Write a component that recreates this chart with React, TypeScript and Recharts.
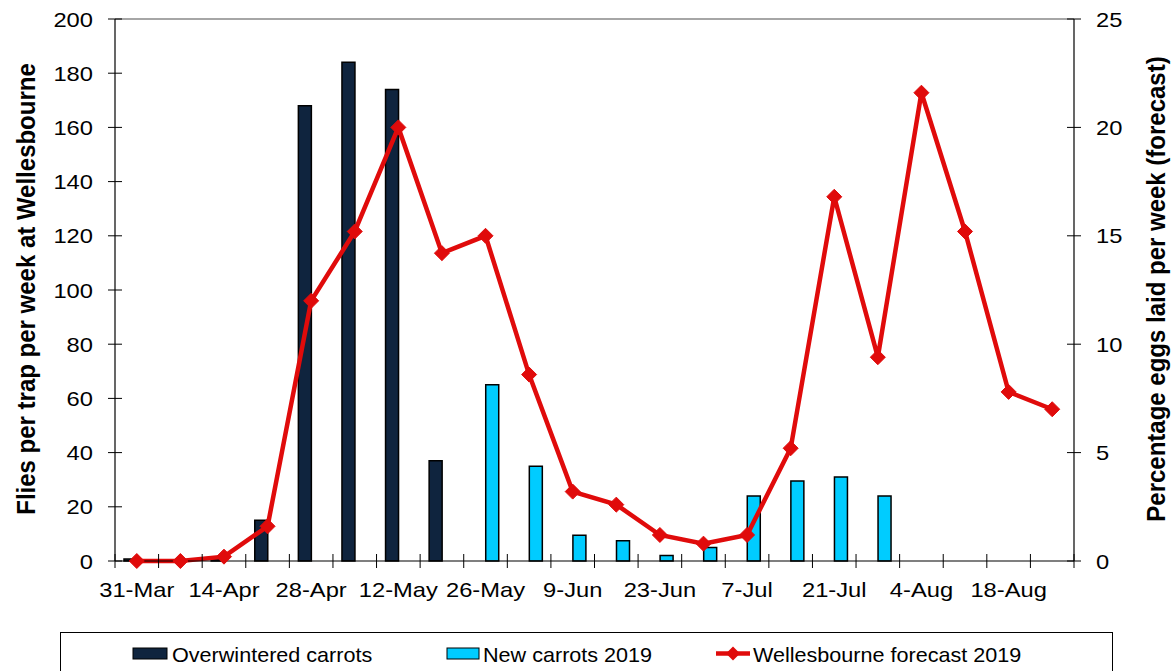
import React from 'react';
import { ComposedChart, Bar, Line, XAxis, YAxis, ReferenceLine } from 'recharts';

const categories = ['31-Mar', '7-Apr', '14-Apr', '21-Apr', '28-Apr', '5-May', '12-May', '19-May', '26-May', '2-Jun', '9-Jun', '16-Jun', '23-Jun', '30-Jun', '7-Jul', '14-Jul', '21-Jul', '28-Jul', '4-Aug', '11-Aug', '18-Aug', '25-Aug'];
const overwintered = [0.7, null, 0.7, 15, 168, 184, 174, 37, null, null, null, null, null, null, null, null, null, null, null, null, null, null];
const newCarrots = [null, null, null, null, null, null, null, null, 65, 35, 9.5, 7.5, 2, 5, 24, 29.5, 31, 24, null, null, null, null];
const forecast = [0, 0, 0.2, 1.6, 12, 15.2, 20, 14.2, 15, 8.6, 3.2, 2.6, 1.2, 0.8, 1.2, 5.2, 16.8, 9.4, 21.6, 15.2, 7.8, 7.0];
const leftTicks = [0, 20, 40, 60, 80, 100, 120, 140, 160, 180, 200];
const rightTicks = [0, 5, 10, 15, 20, 25];

const data = categories.map((c, i) => ({ date: c, ow: overwintered[i], nc: newCarrots[i], fc: forecast[i] }));

const FONT = '"Liberation Sans", Arial, Helvetica, sans-serif';
const SX = 1.13;
const NAVY = '#0F243E';
const CYAN = '#00CCFF';
const RED = '#E00B0B';

const XTick = (props: any) => {
  const { x, y, payload, index, width } = props;
  const bw = (width || 959) / categories.length;
  const showLabel = index % 2 === 0;
  return (
    <g>
      <line x1={x - bw / 2} x2={x - bw / 2} y1={y - 7} y2={y + 7} stroke="#000" strokeWidth={1} />
      {index === categories.length - 1 && (
        <line x1={x + bw / 2} x2={x + bw / 2} y1={y - 7} y2={y + 7} stroke="#000" strokeWidth={1} />
      )}
      {showLabel && (
        <text transform={`translate(${x},${y + 36}) scale(${SX},1)`} textAnchor="middle" fontFamily={FONT} fontSize={21} fill="#000">
          {payload.value}
        </text>
      )}
    </g>
  );
};

const LeftTick = (props: any) => {
  const { x, y, payload } = props;
  const ax = x + 22;
  return (
    <g>
      <line x1={ax - 7} x2={ax + 7} y1={y} y2={y} stroke="#000" strokeWidth={1} />
      <text transform={`translate(${x},${y + 7.5}) scale(${SX},1)`} textAnchor="end" fontFamily={FONT} fontSize={21} fill="#000">
        {payload.value}
      </text>
    </g>
  );
};

const RightTick = (props: any) => {
  const { x, y, payload } = props;
  const ax = x - 22;
  return (
    <g>
      <line x1={ax - 7} x2={ax + 7} y1={y} y2={y} stroke="#000" strokeWidth={1} />
      <text transform={`translate(${x},${y + 7.5}) scale(${SX},1)`} textAnchor="start" fontFamily={FONT} fontSize={21} fill="#000">
        {payload.value}
      </text>
    </g>
  );
};

const Diamond = (props: any) => {
  const { cx, cy, index } = props;
  if (cx == null || cy == null) return <g key={`d${index}`} />;
  const r = 7.5;
  return (
    <polygon key={`d${index}`} points={`${cx},${cy - r} ${cx + r},${cy} ${cx},${cy + r} ${cx - r},${cy}`} fill={RED} stroke={RED} strokeWidth={1} />
  );
};

export default function App() {
  return (
    <div style={{ position: 'absolute', left: 0, top: 0, width: 1174, height: 671, background: '#fff', overflow: 'hidden' }}>
      <ComposedChart width={1174} height={671} data={data} margin={{ top: 19, right: 0, bottom: 70, left: 0 }} barGap={0} barSize={13}>
        <XAxis dataKey="date" interval={0} tickSize={0} tickMargin={0} height={40} tickLine={false} axisLine={{ stroke: '#000', strokeWidth: 1.2 }} tick={(p: any) => <XTick {...p} />} />
        <YAxis yAxisId="left" domain={[0, 200]} ticks={leftTicks} width={115} tickSize={0} tickMargin={22} tickLine={false} axisLine={{ stroke: '#000', strokeWidth: 1.2 }} tick={(p: any) => <LeftTick {...p} />} />
        <YAxis yAxisId="right" orientation="right" domain={[0, 25]} ticks={rightTicks} width={100} tickSize={0} tickMargin={22} tickLine={false} axisLine={{ stroke: '#000', strokeWidth: 1.2 }} tick={(p: any) => <RightTick {...p} />} />
        <ReferenceLine yAxisId="left" y={200} stroke="#888" strokeWidth={1.5} />
        <Bar yAxisId="left" dataKey="ow" name="Overwintered carrots" fill={NAVY} stroke="#000" strokeWidth={1.5} isAnimationActive={false} />
        <Bar yAxisId="left" dataKey="nc" name="New carrots 2019" fill={CYAN} stroke="#000" strokeWidth={1.5} isAnimationActive={false} />
        <Line yAxisId="right" type="linear" dataKey="fc" name="Wellesbourne forecast 2019" stroke={RED} strokeWidth={4.5} dot={(p: any) => <Diamond {...p} />} activeDot={false} isAnimationActive={false} />
      </ComposedChart>
      <svg width={1174} height={671} style={{ position: 'absolute', left: 0, top: 0, pointerEvents: 'none' }}>
        <text transform={`translate(26,289) scale(1.1,1) rotate(-90)`} textAnchor="middle" dominantBaseline="central" fontFamily={FONT} fontWeight="bold" fontSize={24} fill="#000">
          Flies per trap per week at Wellesbourne
        </text>
        <text transform={`translate(1156,289) scale(1.1,1) rotate(-90)`} textAnchor="middle" dominantBaseline="central" fontFamily={FONT} fontWeight="bold" fontSize={24} fill="#000">
          Percentage eggs laid per week (forecast)
        </text>
        <rect x={60.5} y={632.5} width={1052} height={70} fill="none" stroke="#000" strokeWidth={1} />
        <rect x={133} y={648} width={34} height={11} fill={NAVY} stroke="#000" strokeWidth={1} />
        <text transform={`translate(172,662) scale(1.08,1)`} fontFamily={FONT} fontSize={20} fill="#000">Overwintered carrots</text>
        <rect x={447} y={648} width={32} height={11} fill={CYAN} stroke="#000" strokeWidth={1} />
        <text transform={`translate(483,662) scale(1.08,1)`} fontFamily={FONT} fontSize={20} fill="#000">New carrots 2019</text>
        <line x1={716} x2={750} y1={653.5} y2={653.5} stroke={RED} strokeWidth={4.5} />
        <polygon points="733,646.5 740,653.5 733,660.5 726,653.5" fill={RED} />
        <text transform={`translate(753,662) scale(1.08,1)`} fontFamily={FONT} fontSize={20} fill="#000">Wellesbourne forecast 2019</text>
      </svg>
    </div>
  );
}
